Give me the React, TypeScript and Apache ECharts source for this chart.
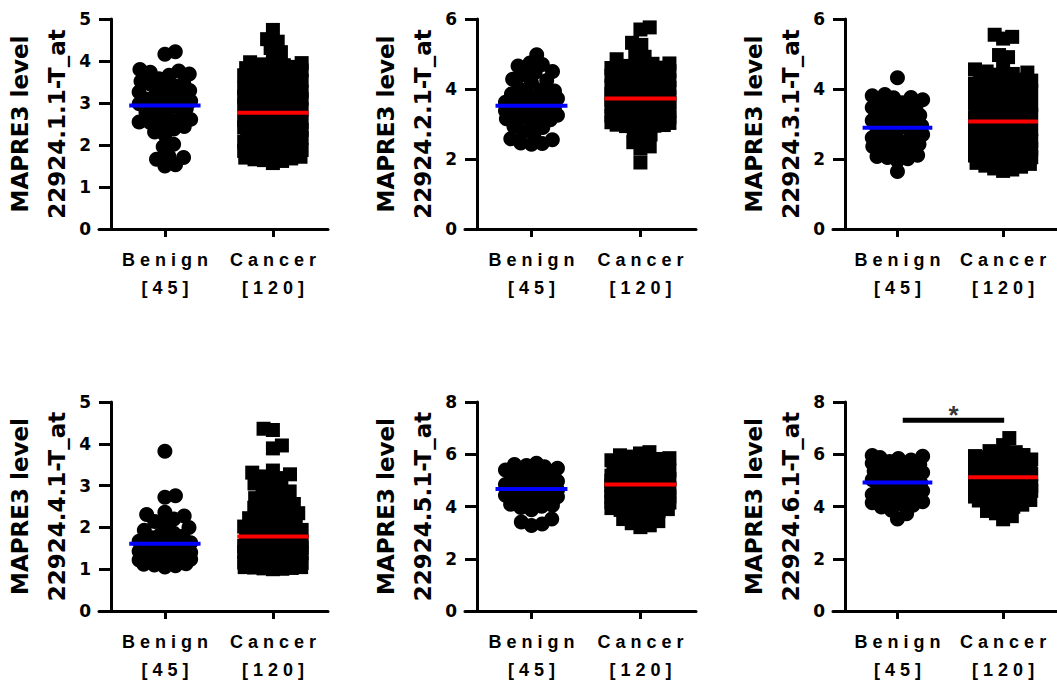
import { useEffect, useRef } from 'react';
import * as echarts from 'echarts';

// ---------------- data ----------------
const CATEGORIES = ['Benign', 'Cancer'];
const GROUP_SIZES = [45, 120];
const Y_LABEL = 'MAPRE3 level';
const PROBES = ['22924.1.1-T_at', '22924.2.1-T_at', '22924.3.1-T_at', '22924.4.1-T_at', '22924.5.1-T_at', '22924.6.1-T_at'];
const Y_MAX = [5, 6, 6, 5, 8, 8];
const Y_STEP = [1, 2, 2, 1, 2, 2];
const BENIGN_MEANS = [2.94, 3.52, 2.89, 1.61, 4.67, 4.92];
const CANCER_MEANS = [2.77, 3.73, 3.07, 1.78, 4.84, 5.12];
const SIG_PANEL = 5;
const SIG_LABEL = '*';
const SIG_LEVEL = 7.3;

const P1_BENIGN = [4.22, 4.16, 3.80, 3.76, 3.73, 3.69, 3.66, 3.58, 3.52, 3.47, 3.44, 3.41, 3.37, 3.30, 3.26, 3.21, 3.17, 3.14, 3.09, 3.05, 3.02, 2.98, 2.95, 2.91, 2.87, 2.83, 2.78, 2.72, 2.65, 2.58, 2.54, 2.49, 2.44, 2.38, 2.31, 2.24, 2.61, 2.55, 2.02, 1.96, 1.74, 1.70, 1.66, 1.53, 1.50];
const P1_CANCER = [4.74, 4.52, 4.46, 4.31, 4.21, 4.09,
  3.97, 3.95, 3.92, 3.90, 3.87, 3.86, 3.84, 3.83, 3.81, 3.80, 3.78, 3.76, 3.75, 3.73, 3.70, 3.69, 3.66, 3.64, 3.61,
  3.58, 3.56, 3.53, 3.50, 3.48, 3.47, 3.45, 3.44, 3.41, 3.40, 3.37, 3.35, 3.34, 3.31, 3.28, 3.27, 3.25, 3.24, 3.21, 3.19, 3.18, 3.15, 3.12, 3.10, 3.07, 3.06,
  3.04, 3.01, 2.99, 2.96, 2.94, 2.91, 2.89, 2.87, 2.85, 2.84, 2.81, 2.79, 2.76, 2.74, 2.73, 2.70, 2.68, 2.67, 2.65, 2.62, 2.60, 2.57, 2.55, 2.53, 2.50, 2.49,
  2.47, 2.44, 2.42, 2.39, 2.37, 2.36, 2.35, 2.33, 2.30, 2.28, 2.27, 2.24, 2.21, 2.19, 2.17, 2.15, 2.12, 2.10, 2.08, 2.06, 2.05,
  2.02, 1.99, 1.98, 1.96, 1.93, 1.92, 1.90, 1.88, 1.86, 1.84, 1.81, 1.80, 1.78, 1.76, 1.74, 1.72, 1.70, 1.68, 1.66, 1.64, 1.62, 1.57];

const P2_BENIGN = [4.98, 4.74, 4.70, 4.66, 4.50, 4.47, 4.40, 4.28, 4.24, 4.18, 3.45, 3.35, 3.25, 3.15,
  4.02, 3.97, 3.94, 3.90, 3.86, 3.81, 3.77, 3.73, 3.68, 3.62, 3.58, 3.55, 3.51, 3.47, 3.42, 3.38, 3.33, 3.28, 3.22, 3.17, 3.12, 3.08,
  2.93, 2.90, 2.78, 2.72, 2.58, 2.55, 2.44, 2.42, 2.46];
const P2_CANCER = [5.76, 5.70, 5.32, 5.26, 5.05, 4.92, 4.85,
  4.78, 4.73, 4.72, 4.66, 4.61, 4.60, 4.57, 4.51, 4.49, 4.48,
  4.44, 4.39, 4.38, 4.35, 4.30, 4.29, 4.27, 4.22, 4.20, 4.19,
  4.15, 4.12, 4.11, 4.06, 4.04, 4.03, 3.99, 3.97, 3.95, 3.94,
  3.90, 3.88, 3.86, 3.85, 3.81, 3.79, 3.78, 3.75, 3.74, 3.71,
  3.69, 3.68, 3.65, 3.62, 3.61, 3.58, 3.56, 3.55, 3.52, 3.50,
  3.49, 3.46, 3.44, 3.42, 3.40, 3.38, 3.37, 3.34, 3.31, 3.30,
  3.28, 3.25, 3.24, 3.21, 3.19, 3.18, 3.15, 3.12, 3.11, 3.09,
  3.07, 3.05, 3.03, 3.02, 2.99, 2.97, 2.95, 2.93, 4.47, 4.33,
  4.25, 4.08, 3.92, 3.83, 3.72, 3.64, 3.53, 3.47, 3.36, 3.27,
  3.16, 3.06, 2.98, 4.56, 4.41, 4.14, 4.00, 3.87, 3.76, 3.60,
  3.43, 3.33, 3.22, 3.10, 2.94, 3.70,
  2.78, 2.70, 2.62, 2.48, 2.36, 2.30, 1.90];

const P3_BENIGN = [4.32, 3.84, 3.81, 3.76, 3.75, 3.69, 3.62, 3.61, 3.52, 3.49, 3.47, 3.40, 3.38, 3.33, 3.26, 3.25, 3.19, 3.11, 3.10, 3.04, 2.99, 2.95, 2.93, 2.86, 2.85, 2.79, 2.74, 2.70, 2.61, 2.58, 2.57, 2.49, 2.45, 2.42, 2.36, 2.28, 2.26, 2.20, 2.13, 2.11, 2.07, 2.04, 2.01, 1.95, 1.64];
const P3_CANCER = [5.55, 5.49, 5.44, 4.97, 4.91, 4.68,
  4.56, 4.50, 4.47, 4.43, 4.41, 4.36, 4.34, 4.28, 4.27, 4.21,
  4.20, 4.15, 4.13, 4.08, 4.07, 4.01, 3.99, 3.97, 3.91, 3.90,
  3.85, 3.84, 3.78, 3.77, 3.72, 3.71, 3.66, 3.63, 3.62, 3.56,
  3.55, 3.51, 3.49, 3.44, 3.43, 3.38, 3.37, 3.32, 3.31, 3.26,
  3.25, 3.20, 3.19, 3.14, 3.12, 3.09, 3.08, 3.03, 3.02, 2.97,
  2.95, 2.91, 2.90, 2.85, 2.84, 2.80, 2.78, 2.74, 2.73, 2.69,
  2.67, 2.63, 2.61, 2.57, 2.56, 2.52, 2.50, 2.46, 2.44, 2.40,
  2.38, 2.35, 2.33, 2.29, 2.27, 2.23, 2.21, 2.18, 2.16, 2.12,
  2.10, 2.06, 2.05, 2.01, 1.99, 1.95, 1.93, 1.89, 1.86, 1.81,
  1.78, 1.73, 1.70, 1.66, 4.24, 3.94, 3.65, 3.35, 3.13, 2.88,
  2.62, 2.39, 2.17, 2.03, 3.81, 3.50, 2.96, 2.57, 2.29, 4.14,
  1.97, 2.69, 3.22, 3.58];

const P4_BENIGN = [3.82, 2.76, 2.72, 2.36, 2.31, 2.27, 1.28, 2.20, 1.18, 2.14, 1.12, 2.06, 1.36, 2.00, 1.41, 1.93, 1.24, 1.86, 1.82, 1.79, 1.75, 1.71, 1.67, 1.63, 1.59, 1.55, 1.52, 1.49, 1.46, 1.43, 1.40, 1.38, 1.35, 1.32, 1.30, 1.27, 1.25, 1.22, 1.20, 1.17, 1.15, 1.13, 1.10, 1.08, 1.05];
const P4_CANCER = [4.36, 4.33, 3.96, 3.89,
  3.36, 3.31, 3.27, 3.22, 3.18, 3.12, 3.05, 2.98, 2.93, 2.86, 2.81, 2.74, 2.70, 2.64, 2.60, 2.56,
  2.52, 2.47, 2.43, 2.38, 2.34, 2.30, 2.27, 2.22, 2.19, 2.15, 2.12, 2.08, 2.05, 2.02, 1.99, 1.96, 1.94, 1.91, 1.89, 1.86,
  1.84, 1.82, 1.80, 1.78, 1.76, 1.74, 1.72, 1.71, 1.69, 1.68, 1.66, 1.65, 1.63, 1.62, 1.60, 1.59, 1.57, 1.56, 1.54, 1.53,
  1.52, 1.51, 1.49, 1.48, 1.47, 1.45, 1.44, 1.43, 1.41, 1.40, 1.39, 1.37, 1.36, 1.35, 1.33, 1.32, 1.31, 1.29, 1.28, 1.27,
  1.26, 1.24, 1.23, 1.22, 1.21, 1.19, 1.18, 1.17, 1.16, 1.15, 1.13, 1.12, 1.11, 1.10, 1.09, 1.08, 1.07, 1.06, 1.05, 1.04,
  1.03, 1.02, 1.01, 1.00, 1.12, 1.25, 1.34, 1.46, 1.21, 1.09, 1.30, 1.42, 1.17, 1.38, 1.05, 1.27, 1.50, 1.14, 1.33, 1.20];

const P5_BENIGN = [5.66, 5.61, 5.57, 5.52, 5.46, 5.40, 5.33, 5.27, 5.19, 5.12, 5.06, 5.01, 4.97, 4.93, 4.90, 4.87, 4.84, 4.81, 4.78, 4.76, 4.73, 4.70, 4.68, 4.66, 4.63, 4.61, 4.58, 4.55, 4.52, 4.48, 4.43, 4.37, 4.30, 4.24, 4.18, 4.13, 4.09, 4.05, 4.01, 3.96, 3.88, 3.52, 3.41, 3.33, 3.27];
const P5_CANCER = [6.08, 6.03, 5.96, 5.91, 5.85, 5.82, 5.77, 5.73, 5.69, 5.64, 5.61, 5.57, 5.53, 5.50, 5.46, 5.42,
  5.39, 5.36, 5.35, 5.31, 5.29, 5.26, 5.24, 5.22, 5.19, 5.17,
  5.16, 5.13, 5.11, 5.08, 5.07, 5.04, 5.02, 4.99, 4.98, 4.95,
  4.93, 4.91, 4.89, 4.86, 4.85, 4.83, 4.80, 4.78, 4.77, 4.74,
  4.72, 4.70, 4.69, 4.66, 4.64, 4.62, 4.60, 4.58, 4.56, 4.53,
  4.52, 4.49, 4.47, 4.45, 4.43, 4.40, 4.39, 4.36, 4.34, 4.31,
  4.29, 4.27, 4.25, 4.22, 4.20, 4.17, 4.15, 4.12, 4.10, 4.07,
  4.05, 4.02, 3.99, 3.97, 3.94, 3.90, 3.87, 3.83, 5.28, 5.14,
  5.01, 4.88, 4.75, 4.63, 4.50, 4.38, 4.24, 4.09, 5.20, 4.96,
  4.81, 4.67, 4.54, 4.41, 4.33, 4.19, 5.05, 4.71,
  5.38, 5.33, 5.25, 5.18, 5.10, 5.03, 4.94, 4.87,
  3.78, 3.69, 3.61, 3.52, 3.44, 3.36, 3.28, 3.21];

const P6_BENIGN = [5.95, 5.92, 5.88, 5.84, 5.78, 5.72, 5.66, 5.60, 5.55, 5.51, 5.47, 5.43, 5.39, 5.35, 5.30, 5.25, 5.20, 5.16, 5.11, 5.06, 5.02, 4.98, 4.94, 4.90, 4.86, 4.82, 4.77, 4.72, 4.66, 4.60, 4.53, 4.46, 4.40, 4.35, 4.30, 4.26, 4.22, 4.18, 4.14, 4.10, 4.05, 3.98, 3.86, 3.72, 3.52];
const P6_CANCER = [6.62, 6.35, 6.12, 6.08,
  6.02, 5.97, 5.93, 5.89, 5.84, 5.80, 5.76, 5.72, 5.68, 5.65, 5.61, 5.58, 5.55, 5.52, 5.49, 5.46,
  5.44, 5.41, 5.40, 5.37, 5.36, 5.33, 5.30, 5.29, 5.27, 5.24,
  5.22, 5.21, 5.18, 5.16, 5.15, 5.12, 5.10, 5.08, 5.06, 5.04,
  5.01, 4.99, 4.97, 4.95, 4.92, 4.90, 4.88, 4.85, 4.83, 4.81,
  4.78, 4.76, 4.74, 4.71, 4.69, 4.67, 4.64, 4.62, 4.60, 4.57,
  4.55, 4.53, 4.50, 4.48, 4.46, 4.43, 4.41, 4.39, 4.36, 4.34,
  4.32, 4.29, 4.27, 4.25, 4.23, 4.21, 5.39, 5.26, 5.13, 5.00,
  4.87, 4.75, 4.63, 4.51, 4.38, 4.26, 5.34, 5.19, 5.03, 4.93,
  4.80, 4.66, 4.45, 4.30, 5.28, 5.09, 4.72, 4.58, 5.20, 4.96,
  4.84, 4.69, 4.47, 5.11,
  5.43, 5.38, 5.32, 5.25, 5.17, 5.06, 4.98, 4.89,
  4.15, 4.07, 3.99, 3.91, 3.83, 3.74, 3.63, 3.51];

const BENIGN_VALUES = [P1_BENIGN, P2_BENIGN, P3_BENIGN, P4_BENIGN, P5_BENIGN, P6_BENIGN];
const CANCER_VALUES = [P1_CANCER, P2_CANCER, P3_CANCER, P4_CANCER, P5_CANCER, P6_CANCER];

// ---------------- layout ----------------
const AXIS_X = [109, 477, 845];
const ROW_TOP = [19, 402];
const ROW_H = [210, 209];
const X_MIN = -0.61;
const X_MAX = 1.51;
const GRID_W = 231;
const AXIS_SHIFT = 12;
const PX_PER_X = GRID_W / (X_MAX - X_MIN);
const DOT_SIZE = 15;
const SQUARE_SIZE = 14;
const MEAN_HALF = 0.33;

// beeswarm layout: points placed from lowest to highest, each as close to the column centre as collisions allow
function swarm(values: number[], center: number, pxPerY: number, size: number, gap: number, maxHalf: number) {
  const D = size * gap;
  const sorted = values.slice().sort((a, b) => a - b);
  const placed: number[][] = [];
  const out: number[][] = [];
  let side = 1;
  sorted.forEach((v) => {
    const y = v * pxPerY;
    const near = placed.filter((p) => Math.abs(p[1] - y) < D);
    const blocked = (x: number) =>
      near.some((p) => {
        const dx = p[0] - x;
        const dy = p[1] - y;
        return dx * dx + dy * dy < D * D - 1e-6;
      });
    const cands = [0];
    near.forEach((p) => {
      const w = Math.sqrt(D * D - (p[1] - y) * (p[1] - y));
      cands.push(p[0] - w, p[0] + w);
    });
    cands.sort((a, b) => Math.abs(a) - Math.abs(b) || (side > 0 ? b - a : a - b));
    let best = NaN;
    for (const c of cands) {
      if (!blocked(c)) {
        best = c;
        break;
      }
    }
    if (!(Math.abs(best) <= maxHalf)) {
      let bestScore = -1;
      for (let t = 0; t <= 2 * maxHalf; t += 1) {
        const x = side > 0 ? maxHalf - t : -maxHalf + t;
        let m = Infinity;
        near.forEach((p) => {
          const d = Math.hypot(p[0] - x, p[1] - y);
          if (d < m) m = d;
        });
        if (m > bestScore + 1e-9) {
          bestScore = m;
          best = x;
        }
      }
    }
    if (best !== 0) side = best > 0 ? -1 : 1;
    placed.push([best, y]);
    out.push([center + best / PX_PER_X, v]);
  });
  return out;
}

const spaced = (s: string) => s.split('').join(' ');

function buildOption() {
  const grid: any[] = [];
  const xAxis: any[] = [];
  const yAxis: any[] = [];
  const series: any[] = [];
  for (let p = 0; p < 6; p++) {
    const r = Math.floor(p / 3);
    const c = p % 3;
    grid.push({ left: AXIS_X[c] - AXIS_SHIFT, top: ROW_TOP[r], width: GRID_W, height: ROW_H[r] });
    xAxis.push({
      gridIndex: p,
      type: 'value',
      min: X_MIN,
      max: X_MAX,
      splitLine: { show: false },
      axisLine: { show: true, onZero: false, lineStyle: { color: '#000', width: 3 } },
      axisTick: { show: true, customValues: [0, 1], length: 8, lineStyle: { color: '#000', width: 3 } },
      axisLabel: {
        customValues: [0, 1],
        formatter: (v: number) => {
          const i = Math.round(v);
          return spaced(CATEGORIES[i]) + '\n' + spaced('[' + GROUP_SIZES[i] + ']');
        },
        margin: 17,
        color: '#000',
        fontFamily: 'Liberation Sans, Arial, sans-serif',
        fontWeight: 'bold',
        fontSize: 18,
        lineHeight: 28,
      },
    });
    yAxis.push({
      gridIndex: p,
      type: 'value',
      min: 0,
      max: Y_MAX[p],
      interval: Y_STEP[p],
      offset: -AXIS_SHIFT,
      splitLine: { show: false },
      axisLine: { show: true, onZero: false, lineStyle: { color: '#000', width: 3 } },
      axisTick: { show: true, length: 12, lineStyle: { color: '#000', width: 3 } },
      axisLabel: {
        margin: 20,
        color: '#000',
        fontFamily: 'DejaVu Sans, sans-serif',
        fontWeight: 'bold',
        fontSize: 17,
      },
      name: Y_LABEL + '\n' + PROBES[p],
      nameLocation: 'middle',
      nameGap: 36,
      nameTextStyle: {
        color: '#000',
        fontFamily: 'DejaVu Sans, sans-serif',
        fontWeight: 'bold',
        fontSize: 23,
        lineHeight: 37,
      },
    });
    const pxPerY = ROW_H[r] / Y_MAX[p];
    series.push({
      type: 'scatter',
      xAxisIndex: p,
      yAxisIndex: p,
      symbol: 'circle',
      symbolSize: DOT_SIZE,
      itemStyle: { color: '#000', opacity: 1 },
      data: swarm(BENIGN_VALUES[p], 0, pxPerY, DOT_SIZE, 0.72, 26),
      silent: true,
    });
    series.push({
      type: 'scatter',
      xAxisIndex: p,
      yAxisIndex: p,
      symbol: 'rect',
      symbolSize: SQUARE_SIZE,
      itemStyle: { color: '#000', opacity: 1 },
      data: swarm(CANCER_VALUES[p], 1, pxPerY, SQUARE_SIZE, 0.68, 29),
      silent: true,
    });
    series.push({
      type: 'line',
      xAxisIndex: p,
      yAxisIndex: p,
      symbol: 'none',
      z: 5,
      lineStyle: { color: '#0000ff', width: 4 },
      data: [[0 - MEAN_HALF, BENIGN_MEANS[p]], [0 + MEAN_HALF, BENIGN_MEANS[p]]],
      silent: true,
    });
    series.push({
      type: 'line',
      xAxisIndex: p,
      yAxisIndex: p,
      symbol: 'none',
      z: 5,
      lineStyle: { color: '#ff0000', width: 4 },
      data: [[1 - MEAN_HALF, CANCER_MEANS[p]], [1 + MEAN_HALF, CANCER_MEANS[p]]],
      silent: true,
    });
    if (p === SIG_PANEL) {
      series.push({
        type: 'line',
        xAxisIndex: p,
        yAxisIndex: p,
        symbol: 'none',
        lineStyle: { color: '#000', width: 5 },
        data: [[0.05, SIG_LEVEL], [1.01, SIG_LEVEL]],
        silent: true,
      });
      series.push({
        type: 'scatter',
        xAxisIndex: p,
        yAxisIndex: p,
        symbolSize: 0,
        data: [[0.53, SIG_LEVEL]],
        label: {
          show: true,
          position: 'top',
          distance: -8,
          formatter: SIG_LABEL,
          color: '#000',
          fontFamily: 'Liberation Sans, Arial, sans-serif',
          fontWeight: 'bold',
          fontSize: 26,
        },
        silent: true,
      });
    }
  }
  return { animation: false, backgroundColor: '#fff', grid, xAxis, yAxis, series };
}

export default function App() {
  const ref = useRef<HTMLDivElement>(null);
  useEffect(() => {
    if (!ref.current) return;
    const chart = echarts.init(ref.current, undefined, { renderer: 'svg' });
    chart.setOption(buildOption() as any);
    return () => chart.dispose();
  }, []);
  return (
    <div
      ref={ref}
      style={{ position: 'fixed', left: 0, top: 0, width: 1057, height: 690, background: '#fff' }}
    />
  );
}
